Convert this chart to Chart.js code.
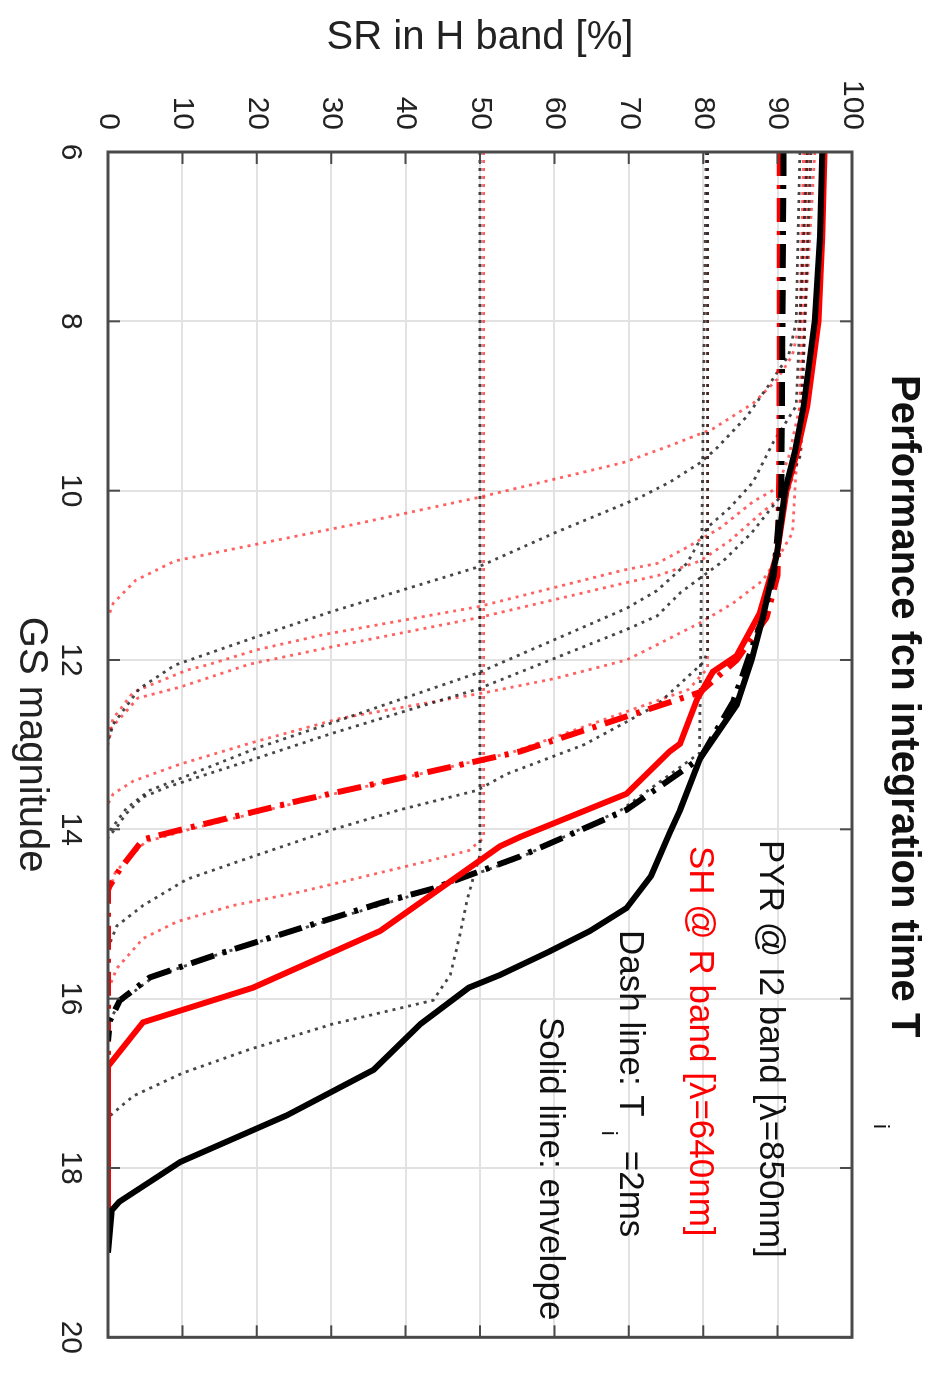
<!DOCTYPE html>
<html lang="en">
<head>
    <meta charset="UTF-8">
    <title>SR vs GS magnitude</title>
    <script src="https://cdn.jsdelivr.net/npm/chart.js"></script>
    <style>
        body { margin: 0; background: #fff; overflow: hidden; }
        /* the plot is laid out landscape and turned a quarter turn clockwise */
        #wrap {
            position: absolute; left: 0; top: 0;
            width: 1374px; height: 934px;
            transform-origin: 0 0;
            transform: translate(934px, 0) rotate(90deg);
        }
    </style>
</head>
<body>
<div id="wrap"><canvas id="srChart" width="1374" height="934"></canvas></div>

<script>
    // axis ticks
    const magTicks = [6, 8, 10, 12, 14, 16, 18, 20];
    const srTicks = [0, 10, 20, 30, 40, 50, 60, 70, 80, 90, 100];

    // envelopes: [GS magnitude, SR %]
    const pyrEnvelope = [[6,96],[7,95.7],[8,95],[9,93.5],[9.55,92.3],[10,91],[10.75,89.9],[11.5,88],[12,86.5],[12.53,84.5],[13.16,79.6],[13.77,76.9],[14.04,75.5],[14.55,73],[14.93,69.7],[15.2,64.8],[15.44,59.4],[15.72,52.7],[15.87,48.5],[16.3,42],[16.84,35.7],[17.38,24],[17.93,9.7],[18.4,1.5],[18.5,0.5],[19,0]];
    const shEnvelope = [[6,96.3],[7,96],[8,95.5],[9,94],[9.55,92.6],[10,91.2],[10.75,89.9],[11.45,87.6],[11.95,84.5],[12.14,81.3],[12.46,79.2],[12.99,76.9],[13.08,75.5],[13.58,69.7],[14.09,55.4],[14.2,52.7],[15.2,36.6],[15.87,19.5],[16.28,4.7],[16.8,0],[19,0]];

    // Ti = 2 ms
    const pyr2ms = [[6,90.8],[10,90.5],[11,89.5],[11.5,88],[12,86],[12.5,84],[13.16,79.6],[13.77,69.7],[14.32,55.4],[14.7,43.7],[14.86,37],[15.17,25.8],[15.48,14.6],[15.75,5.6],[16.02,1.6],[16.25,0.3],[16.5,0]];
    const sh2ms = [[6,90.3],[8,90.3],[10,90.2],[11,90],[11.5,88.5],[12,84.5],[12.38,79.6],[13.08,55.4],[13.31,43.7],[13.66,25.8],[14,10],[14.12,4.7],[14.47,1.6],[14.7,0],[16.8,0]];

    // other integration times, PYR
    const pyrT1 = [[6,93],[8,92.5],[8.4,91.5],[8.73,89],[9.12,85.9],[9.5,81.8],[9.67,79.6],[9.9,75.5],[10.08,71.5],[10.5,60],[10.9,49.8],[11.43,30],[11.74,19.5],[12.06,9],[12.34,4.2],[12.76,0.7],[12.95,0]];
    const pyrT2 = [[6,94],[9,92.5],[9.43,89.4],[9.9,86.7],[10.2,83.6],[10.44,80.5],[10.86,77.8],[11.18,73.8],[11.39,69.7],[12.15,49.8],[12.73,30.5],[13.04,20],[13.39,10],[13.54,5.6],[13.75,2.5],[13.93,1],[14.05,0]];
    const pyrT3 = [[6,94.5],[9.6,93],[10,91],[10.5,86.5],[10.83,82.7],[11.2,77],[11.48,73.8],[11.64,69.7],[12.34,49.8],[12.87,30],[13.16,20],[13.5,8],[13.62,4.7],[13.81,2.5],[13.97,1.2],[14.1,0]];
    const pyrT80 = [[6,80.6],[11.9,80.6],[12.03,80],[12.53,73.8],[12.73,69.7],[13,64],[13.35,53.5],[13.54,49.6],[13.77,39.2],[14,30.3],[14.32,19.5],[14.59,10.6],[14.9,4.7],[15.14,1.2],[15.4,0]];
    const pyrT80b = [[6,80.4],[13.1,79.5],[13.77,69],[14.35,55],[14.7,44],[15.2,25],[15.5,14],[15.75,6],[16.05,1.5],[16.3,0]];
    const pyrT50 = [[6,50],[14.3,50],[14.6,49],[14.86,48.2],[15.25,47.3],[15.72,46],[16.02,43.7],[16.3,30.2],[16.6,19],[16.88,10],[17.15,3.4],[17.38,0.3],[17.6,0]];

    // other integration times, SH
    const shT1 = [[6,93.5],[8,93],[8.4,92],[8.69,89.9],[8.97,86.7],[9.27,81.3],[9.47,75.5],[9.55,73],[9.67,69.2],[10.08,49.8],[10.4,33],[10.65,19],[10.83,9],[11.06,3.7],[11.33,0.7],[11.5,0]];
    const shT2 = [[6,93.8],[9,93],[9.6,91.5],[9.97,89.9],[10.13,86.7],[10.44,82.3],[10.67,77.8],[10.86,73.8],[10.94,69.2],[11.37,49.8],[11.7,29],[11.88,20],[12.06,13.3],[12.12,10.6],[12.38,3.4],[12.69,0.7],[12.9,0]];
    const shT3 = [[6,94.2],[9.5,93.2],[10,91.5],[10.28,87.6],[10.59,83.6],[10.83,79.6],[11,74],[11.1,69],[11.5,49.8],[11.85,29.8],[12.05,19],[12.32,9.7],[12.45,4],[12.8,0.5],[13,0]];
    const shT4 = [[6,95],[10.5,92],[10.8,90],[11.06,88],[11.33,84],[11.56,79.6],[11.82,73.8],[12,69.7],[12.22,60],[12.38,51],[12.69,31.2],[12.96,20],[13.23,9.7],[13.43,3.4],[13.58,0.7],[13.7,0]];
    const shT80 = [[6,80.6],[12.1,80.6],[12.35,78],[13.1,54],[13.65,27],[14,11],[14.15,5],[14.5,1],[14.8,0]];
    const shT50 = [[6,50.5],[14.1,50.5],[14.25,48.5],[14.36,43.7],[14.55,34.8],[14.74,25.8],[14.9,16.8],[15.09,9.3],[15.29,4.7],[15.64,1.2],[15.9,0]];

    const FONT = '"Liberation Sans", Arial, sans-serif';
    const RED = '#ff0000';
    const DOT_BLACK = 'rgba(25,25,25,0.8)';
    const DOT_RED = 'rgba(255,45,45,0.75)';

    function curve(label, pts, color, width, dash, order) {
        return {
            label: label,
            data: pts.map(p => ({ x: p[0], y: p[1] })),
            showLine: true,
            borderColor: color,
            borderWidth: width,
            borderDash: dash,
            borderCapStyle: 'butt',
            pointRadius: 0,
            fill: false,
            tension: 0,
            order: order
        };
    }

    const dotted = [3, 5];
    const dashDot = [24, 9, 4, 9];

    const datasets = [
        curve('PYR envelope', pyrEnvelope, '#000', 6, [], 0),
        curve('SH envelope', shEnvelope, RED, 6, [], 0),
        curve('PYR 2ms', pyr2ms, '#000', 6, dashDot, 1),
        curve('SH 2ms', sh2ms, RED, 6, dashDot, 1),
        curve('PYR t1', pyrT1, DOT_BLACK, 2.8, dotted, 2),
        curve('PYR t2', pyrT2, DOT_BLACK, 2.8, dotted, 2),
        curve('PYR t3', pyrT3, DOT_BLACK, 2.8, dotted, 2),
        curve('PYR t80', pyrT80, DOT_BLACK, 2.8, dotted, 2),
        curve('PYR t80b', pyrT80b, DOT_BLACK, 2.8, dotted, 2),
        curve('PYR t50', pyrT50, DOT_BLACK, 2.8, dotted, 2),
        curve('SH t1', shT1, DOT_RED, 2.8, dotted, 2),
        curve('SH t2', shT2, DOT_RED, 2.8, dotted, 2),
        curve('SH t3', shT3, DOT_RED, 2.8, dotted, 2),
        curve('SH t4', shT4, DOT_RED, 2.8, dotted, 2),
        curve('SH t80', shT80, DOT_RED, 2.8, dotted, 2),
        curve('SH t50', shT50, DOT_RED, 2.8, dotted, 2)
    ];

    // frame, inward tick marks, title and the text notes inside the plot
    const framePlugin = {
        id: 'frame',
        afterDatasetsDraw(chart) {
            const { ctx, chartArea: a, scales } = chart;
            ctx.save();
            ctx.strokeStyle = '#4a4a4a';
            ctx.lineWidth = 3;
            ctx.strokeRect(a.left, a.top, a.right - a.left, a.bottom - a.top);
            ctx.lineWidth = 2;
            ctx.beginPath();
            magTicks.forEach(m => {
                const px = scales.x.getPixelForValue(m);
                ctx.moveTo(px, a.bottom); ctx.lineTo(px, a.bottom - 12);
                ctx.moveTo(px, a.top); ctx.lineTo(px, a.top + 12);
            });
            srTicks.forEach(s => {
                const py = scales.y.getPixelForValue(s);
                ctx.moveTo(a.left, py); ctx.lineTo(a.left + 12, py);
                ctx.moveTo(a.right, py); ctx.lineTo(a.right - 12, py);
            });
            ctx.stroke();

            ctx.textBaseline = 'middle';
            ctx.textAlign = 'left';
            ctx.fillStyle = '#111';
            ctx.font = 'bold 40px ' + FONT;
            ctx.fillText('Performance fcn integration time T', 375, 31);
            ctx.font = '22px ' + FONT;
            ctx.fillText('i', 1124, 54);

            ctx.font = '35px ' + FONT;
            ctx.fillText('PYR @ I2 band [\u03bb=850nm]', 840, 164);
            ctx.fillStyle = RED;
            ctx.fillText('SH @ R band [\u03bb=640nm]', 846, 234);
            ctx.fillStyle = '#111';
            const head = 'Dash line: T';
            ctx.fillText(head, 930, 304);
            const w = ctx.measureText(head).width;
            ctx.font = '22px ' + FONT;
            ctx.fillText('i', 930 + w + 14, 326);
            ctx.font = '35px ' + FONT;
            ctx.fillText('=2ms', 930 + w + 34, 304);
            ctx.fillText('Solid line: envelope', 1017, 384);
            ctx.restore();
        }
    };

    const ctx = document.getElementById('srChart').getContext('2d');

    new Chart(ctx, {
        type: 'scatter',
        data: { datasets: datasets },
        plugins: [framePlugin],
        options: {
            responsive: false,
            animation: false,
            devicePixelRatio: 1,
            layout: { padding: { left: 0, right: 19, top: 82, bottom: 0 } },
            plugins: { legend: { display: false }, tooltip: { enabled: false } },
            scales: {
                x: {
                    type: 'linear', min: 6, max: 20,
                    afterFit: s => { s.height = 108; },
                    afterBuildTicks: s => { s.ticks = magTicks.map(v => ({ value: v })); },
                    grid: { color: '#e2e2e2', lineWidth: 2, drawTicks: false },
                    border: { display: false },
                    ticks: { color: '#222', padding: 20, font: { size: 30, family: FONT } },
                    title: { display: true, text: 'GS magnitude', color: '#222', padding: { bottom: 7 }, font: { size: 40, family: FONT } }
                },
                y: {
                    type: 'linear', min: 0, max: 100,
                    afterFit: s => { s.width = 152; },
                    afterBuildTicks: s => { s.ticks = srTicks.map(v => ({ value: v })); },
                    grid: { color: '#e2e2e2', lineWidth: 2, drawTicks: false },
                    border: { display: false },
                    ticks: { color: '#222', padding: 22, font: { size: 30, family: FONT } },
                    title: { display: true, text: 'SR in H band [%]', color: '#222', padding: { top: 14 }, font: { size: 40, family: FONT } }
                }
            }
        }
    });
</script>
</body>
</html>
